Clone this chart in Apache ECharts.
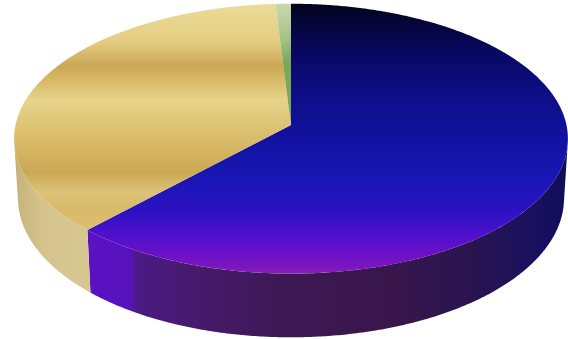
<!DOCTYPE html>
<html>
<head>
<meta charset="utf-8">
<script src="https://cdn.jsdelivr.net/npm/echarts@6/dist/echarts.min.js"></script>
<style>
  html, body { margin: 0; padding: 0; background: #ffffff; }
  #chart { width: 568px; height: 339px; }
</style>
</head>
<body>
<div id="chart"></div>
<script>
// ---- data ----
const sliceNames = ['Segment A', 'Segment B', 'Segment C'];
const sliceValues = [62, 37, 1];

// ---- perspective disc setup (unit radius, top face at height 0) ----
const view = {
  cx: 291, cy: 125,       // projected centre of the top face
  k: 2380,                // focal scale
  dist: 8.64,             // camera distance
  tilt: 29 * Math.PI / 180,
  depth: 0.25             // thickness of the disc
};

function project(X, Y, Z) {
  const s = Math.sin(view.tilt), c = Math.cos(view.tilt);
  const yc = Y * c + Z * s;
  const zc = view.dist - Y * s + Z * c;
  return [view.cx + view.k * X / zc, view.cy - view.k * yc / zc];
}
// angle in degrees, clockwise from the far side of the disc
function rim(deg, Y) {
  const a = deg * Math.PI / 180;
  return project(Math.sin(a), Y, Math.cos(a));
}

// ---- styles ----
const topFills = [
  { type: 'linear', x: 0, y: 5, x2: 0, y2: 275, global: true, colorStops: [
    { offset: 0, color: '#03031a' }, { offset: 0.06, color: '#050538' },
    { offset: 0.2, color: '#09096a' }, { offset: 0.35, color: '#0e0e8a' },
    { offset: 0.5, color: '#1212a2' }, { offset: 0.65, color: '#1a16b6' },
    { offset: 0.76, color: '#2a12c2' }, { offset: 0.85, color: '#4e10cc' },
    { offset: 0.92, color: '#6a10c8' }, { offset: 0.97, color: '#7a16bc' },
    { offset: 1, color: '#8a24b0' } ] },
  { type: 'linear', x: 0, y: 5, x2: 0, y2: 275, global: true, colorStops: [
    { offset: 0, color: '#eadb96' }, { offset: 0.13, color: '#e4ce84' },
    { offset: 0.226, color: '#cba655' }, { offset: 0.278, color: '#d8b866' },
    { offset: 0.352, color: '#e7d38a' }, { offset: 0.463, color: '#dcc171' },
    { offset: 0.537, color: '#d6b662' }, { offset: 0.619, color: '#cba855' },
    { offset: 0.693, color: '#dcc277' }, { offset: 0.76, color: '#d8bb6a' },
    { offset: 0.85, color: '#dcc272' }, { offset: 1, color: '#dcc272' } ] },
  { type: 'linear', x: 276, y: 10, x2: 292, y2: 60, global: true, colorStops: [
    { offset: 0, color: '#c6d6aa' }, { offset: 0.6, color: '#a2c284' },
    { offset: 1, color: '#7aa85a' } ] }
];

// wall shading: [angle in degrees, colour]
const sideStops = [
  [[90, '#0c0c58'], [121, '#181060'], [143, '#2a1450'], [160, '#38164c'],
   [180, '#3c1852'], [198, '#461a6c'], [211, '#4c1a84'], [212.5, '#5612bc'], [230, '#5c12c8']],
  [[220, '#d8c894'], [240, '#d4c38c'], [255, '#cab57c'], [270, '#c4ad72']],
  [[0, '#9ab880'], [360, '#9ab880']]
];

function hexToRgb(h) {
  return [parseInt(h.slice(1, 3), 16), parseInt(h.slice(3, 5), 16), parseInt(h.slice(5, 7), 16)];
}
function sideColor(i, deg) {
  const st = sideStops[i];
  if (deg <= st[0][0]) return st[0][1];
  for (let j = 1; j < st.length; j++) {
    if (deg <= st[j][0]) {
      const t = (deg - st[j - 1][0]) / (st[j][0] - st[j - 1][0]);
      const a = hexToRgb(st[j - 1][1]), b = hexToRgb(st[j][1]);
      const c = a.map((v, n) => Math.round(v + (b[n] - v) * t));
      return 'rgb(' + c.join(',') + ')';
    }
  }
  return st[st.length - 1][1];
}

const total = sliceValues.reduce((a, b) => a + b, 0);

function renderSlice(params, api) {
  const i = params.dataIndex;
  let before = 0;
  for (let j = 0; j < i; j++) before += sliceValues[j];
  const a0 = before / total * 360;
  const a1 = (before + api.value(0)) / total * 360;
  const children = [];

  // outer wall, only the part facing the camera, one shape with a horizontal gradient
  const c = Math.cos(view.tilt);
  const limit = Math.acos(-1 / (view.dist * c)) * 180 / Math.PI;
  const w0 = Math.max(a0, limit), w1 = Math.min(a1, 360 - limit);
  if (w1 > w0) {
    const n = Math.max(2, Math.ceil((w1 - w0) * 2));
    const topPts = [], botPts = [];
    for (let s = 0; s <= n; s++) {
      const d = w0 + (w1 - w0) * s / n;
      topPts.push(rim(d, 0));
      botPts.push(rim(d, -view.depth));
    }
    const pts = topPts.concat(botPts.reverse());
    const xs = pts.map(p => p[0]);
    const xl = Math.min.apply(null, xs), xr = Math.max.apply(null, xs);
    const stops = [];
    const angles = [w0, w1].concat(sideStops[i].map(s => s[0]).filter(a => a > w0 && a < w1));
    angles.forEach(a => {
      const x = rim(a, -view.depth / 2)[0];
      stops.push({ offset: Math.min(1, Math.max(0, (x - xl) / (xr - xl))), color: sideColor(i, a) });
    });
    stops.sort((p, q) => p.offset - q.offset);
    children.push({
      type: 'polygon', z2: 10,
      shape: { points: pts },
      style: { fill: { type: 'linear', x: xl, y: 0, x2: xr, y2: 0, global: true, colorStops: stops } }
    });
  }

  // top face
  const pts = [project(0, 0, 0)];
  const m = Math.max(2, Math.ceil((a1 - a0) * 2));
  for (let s = 0; s <= m; s++) pts.push(rim(a0 + (a1 - a0) * s / m, 0));
  children.push({
    type: 'polygon', z2: 100,
    shape: { points: pts },
    style: { fill: topFills[i], stroke: null }
  });

  return { type: 'group', children: children };
}

const chart = echarts.init(document.getElementById('chart'), null, { renderer: 'canvas' });
chart.setOption({
  backgroundColor: '#ffffff',
  animation: false,
  series: [{
    type: 'custom',
    coordinateSystem: 'none',
    renderItem: renderSlice,
    data: sliceValues.map((v, i) => ({ name: sliceNames[i], value: [v] }))
  }]
});
</script>
</body>
</html>
